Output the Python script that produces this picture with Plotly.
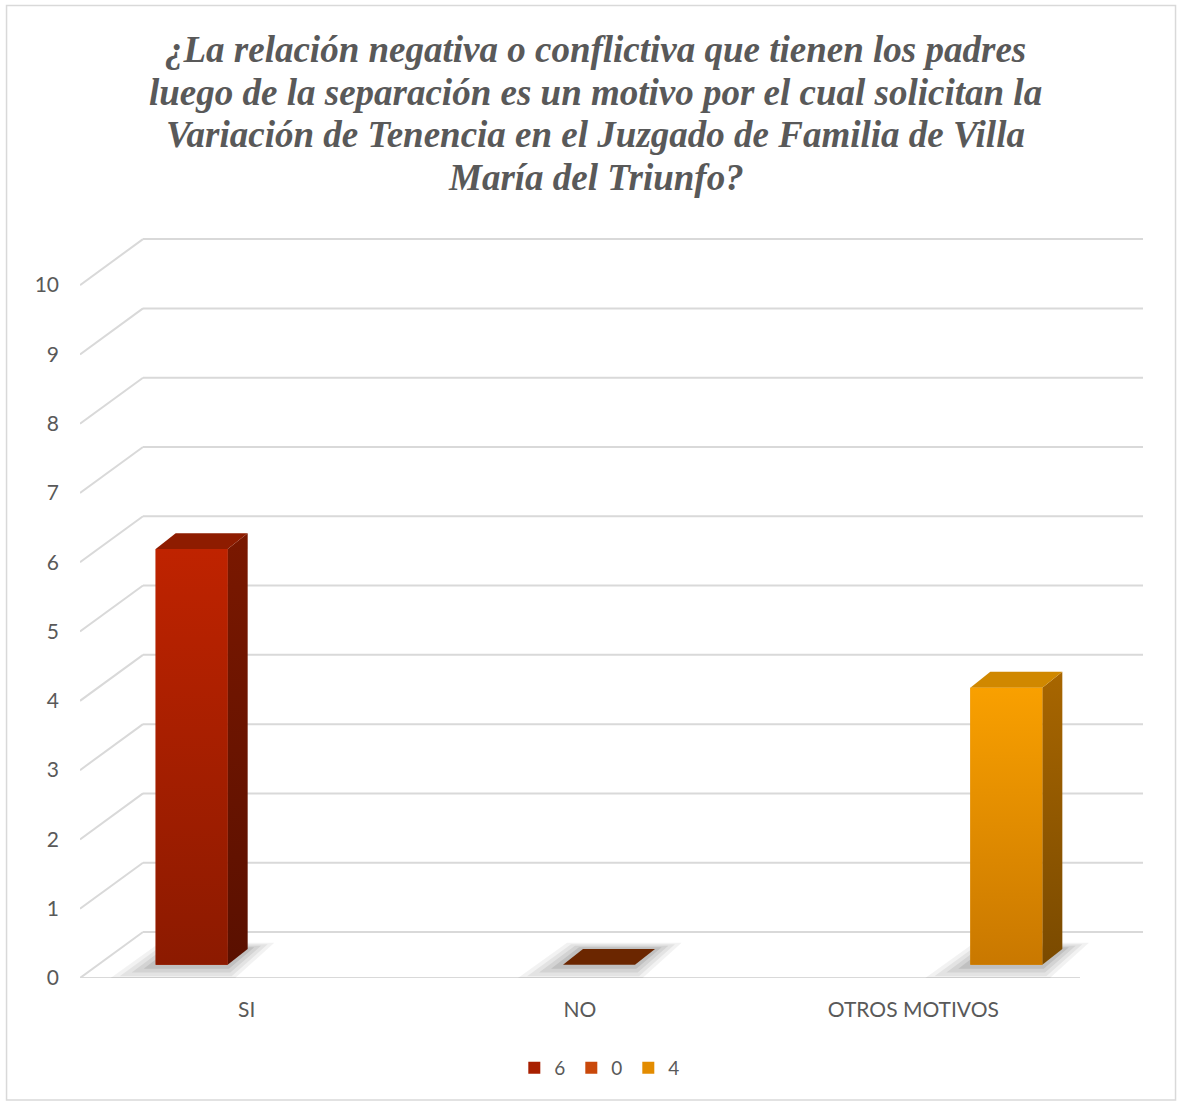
import plotly.graph_objects as go

# ---------------- data ----------------
categories = ["SI", "NO", "OTROS MOTIVOS"]
series_names = ["6", "0", "4"]
serie_6 = [6, None, None]
serie_0 = [None, 0, None]
serie_4 = [None, None, 4]
y_ticks = [0, 1, 2, 3, 4, 5, 6, 7, 8, 9, 10]
title_lines = [
    "¿La relación negativa o conflictiva que tienen los padres",
    "luego de la separación es un motivo por el cual solicitan la",
    "Variación de Tenencia en el Juzgado de Familia de Villa",
    "María del Triunfo?",
]

# ---------------- style ----------------
front_mid = ["#A81F00", "#C9480A", "#E38C00"]
front_top = ["#BF2300", "#6B2600", "#F9A000"]
front_bot = ["#8C1A00", "#6B2600", "#C97800"]
side_top = ["#7A1800", "#5A1E00", "#A86600"]
side_bot = ["#5A1000", "#5A1E00", "#7A4A00"]
top_face = ["#8E1C00", "#6B2600", "#D08800"]
grid_color = "#D9D9D9"
text_color = "#595959"

# pseudo-3D geometry (axis units)
X0, X1 = -0.5, 2.689
Y0, Y1 = 0.0, 10.68
WALL_DX, WALL_DY = 0.189, 0.664
BASE_DX, BASE_DY = 0.057, 0.19
BAR_W = 0.216
SERIES_OFF = [-0.222, 0.0, 0.222]
BAR_DX, BAR_DY = 0.06, 0.23

fig = go.Figure()
shapes = []

# gridlines (floor diagonals + back wall), drawn below the bars
for v in y_ticks:
    shapes.append(dict(type="line", xref="x", yref="y", x0=X0, y0=v,
                       x1=X0 + WALL_DX, y1=v + WALL_DY, layer="below",
                       line=dict(color=grid_color, width=2)))
    shapes.append(dict(type="line", xref="x", yref="y", x0=X0 + WALL_DX, y0=v + WALL_DY,
                       x1=X1, y1=v + WALL_DY, layer="below",
                       line=dict(color=grid_color, width=2)))
shapes.append(dict(type="line", xref="x", yref="y", x0=X0, y0=0,
                   x1=len(categories) - 0.5, y1=0, layer="below",
                   line=dict(color=grid_color, width=2)))

all_series = [serie_6, serie_0, serie_4]


def poly(xs, ys):
    return "M " + " L ".join(f"{a},{b}" for a, b in zip(xs, ys)) + " Z"


for s, vals in enumerate(all_series):
    for i, v in enumerate(vals):
        if v is None:
            continue
        x0 = i + SERIES_OFF[s] + BASE_DX - BAR_W / 2
        x1 = x0 + BAR_W
        b = BASE_DY
        t = b + v
        # soft shadow at base (below)
        for k, op in [(4, 0.05), (3, 0.06), (2, 0.07), (1, 0.09)]:
            gx = 0.02 * k
            gy = 0.055 * k
            shapes.append(dict(
                type="path", xref="x", yref="y", layer="below",
                path=poly([x0 - gx * 1.8, x1 + gx * 0.2, x1 + BAR_DX + gx, x0 + BAR_DX - gx * 0.6],
                          [b - gy, b - gy, b + BAR_DY + gy * 0.4, b + BAR_DY + gy * 0.4]),
                fillcolor=f"rgba(0,0,0,{op})", line=dict(width=0)))
        # side face
        fig.add_trace(go.Scatter(
            x=[x1, x1, x1 + BAR_DX, x1 + BAR_DX, x1],
            y=[b, t, t + BAR_DY, b + BAR_DY, b],
            fill="toself", mode="lines", line=dict(width=0),
            fillgradient=dict(type="vertical",
                              colorscale=[[0, side_bot[s]], [1, side_top[s]]]),
            hoverinfo="skip", showlegend=False))
        # top face
        fig.add_trace(go.Scatter(
            x=[x0, x1, x1 + BAR_DX, x0 + BAR_DX, x0],
            y=[t, t, t + BAR_DY, t + BAR_DY, t],
            fill="toself", fillcolor=top_face[s], mode="lines",
            line=dict(width=0), hoverinfo="skip", showlegend=False))
        # front face shading (gradient)
        if v > 0:
            fig.add_trace(go.Scatter(
                x=[x0, x1, x1, x0, x0], y=[b, b, t, t, b],
                fill="toself", mode="lines", line=dict(width=0),
                fillgradient=dict(type="vertical",
                                  colorscale=[[0, front_bot[s]], [1, front_top[s]]]),
                hoverinfo="skip", showlegend=False))

# front faces (bars) + legend
for s, vals in enumerate(all_series):
    xs, ys = [], []
    for i, v in enumerate(vals):
        if v is None:
            continue
        xs.append(i + SERIES_OFF[s] + BASE_DX)
        ys.append(v)
    fig.add_trace(go.Bar(
        x=xs, y=ys, base=[BASE_DY] * len(xs), width=BAR_W,
        name=series_names[s], marker=dict(color=front_mid[s], line=dict(width=0)),
        showlegend=True))

# title as separate lines (tight line spacing like the original)
PLOT_TOP, PLOT_BOT = 238.0, 978.0
title_centers_px = [49, 92, 134, 177]
annotations = []
for line, py in zip(title_lines, title_centers_px):
    annotations.append(dict(
        text=line, xref="paper", yref="paper",
        x=0.4854, y=(PLOT_BOT - py) / (PLOT_BOT - PLOT_TOP),
        xanchor="center", yanchor="middle", showarrow=False,
        font=dict(family="Liberation Serif", size=37, color=text_color,
                  weight="bold", style="italic")))

shapes.append(dict(type="rect", xref="paper", yref="paper",
                   x0=-0.0691, x1=1.0306, y0=-0.1649, y1=1.3142, layer="below",
                   line=dict(color="#D9D9D9", width=1.5), fillcolor="rgba(0,0,0,0)"))

fig.update_layout(
    width=1180, height=1103,
    margin=dict(l=80, r=37, t=238, b=125),
    paper_bgcolor="white", plot_bgcolor="white",
    barmode="overlay",
    xaxis=dict(range=[X0, X1], tickvals=list(range(len(categories))), ticktext=categories,
               showgrid=False, zeroline=False, showline=False, ticks="",
               tickfont=dict(family="Lato", size=21, color=text_color),
               ticklabelstandoff=17),
    yaxis=dict(range=[Y0, Y1], tickvals=y_ticks, showgrid=False, zeroline=False,
               showline=False, ticks="",
               tickfont=dict(family="Lato", size=21, color=text_color),
               ticklabelstandoff=20),
    legend=dict(orientation="h", x=0.489, xanchor="center", y=-0.1216, yanchor="middle",
                font=dict(family="Lato", size=19, color=text_color),
                itemwidth=30, entrywidth=12, entrywidthmode="pixels",
                traceorder="normal"),
    shapes=shapes,
    annotations=annotations,
)

fig.write_html("out.html", config={"displayModeBar": False},
               post_script="document.body.style.margin='0px';")
